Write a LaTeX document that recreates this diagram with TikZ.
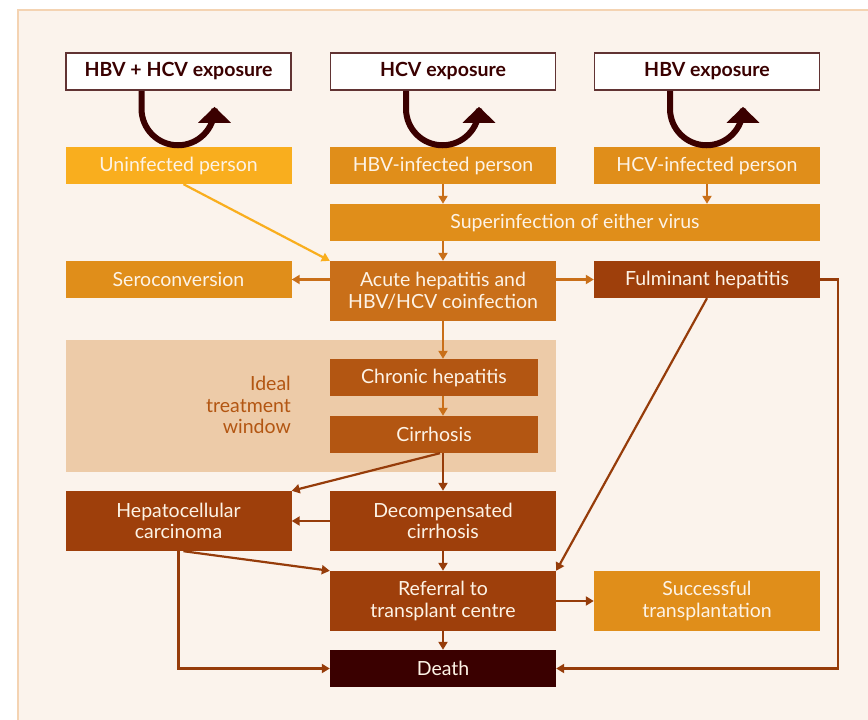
\documentclass[tikz,border=0pt]{standalone}
\usepackage{fontspec}
\setmainfont{Lato}
\usetikzlibrary{arrows.meta}
\definecolor{paper}{HTML}{FBF3EC}
\definecolor{rim}{HTML}{F4D3B2}
\definecolor{ink}{HTML}{3A0000}
\definecolor{yel}{HTML}{F9AE1E}
\definecolor{amber}{HTML}{E08E1A}
\definecolor{ochre}{HTML}{C96F19}
\definecolor{rust}{HTML}{B35612}
\definecolor{brick}{HTML}{9E3F0B}
\definecolor{windowbg}{HTML}{EDCBA8}
\definecolor{boxtext}{HTML}{FDF3E6}
\begin{document}
\begin{tikzpicture}[x=1pt,y=-1pt,
  every node/.style={font=\fontsize{19.5}{21.5}\selectfont, inner sep=0pt, align=center},
  expo/.style={draw=ink!80, line width=1.5pt, fill=white, text=ink, font=\fontsize{19.5}{21.5}\selectfont\bfseries, minimum width=225pt, minimum height=37pt},
  stage/.style={text=boxtext, minimum width=226pt, minimum height=37pt},
  tall/.style={minimum height=60pt},
  loop/.style={ink, line width=6pt, -{Triangle[length=16pt,width=32pt]}},
  flow/.style={line width=2.2pt, -{Triangle[length=8pt,width=9pt]}},
  upper/.style={flow, ochre},
  lower/.style={flow, brick!95!black}
]
\useasboundingbox (0,0) rectangle (868,720);
\fill[paper] (18,10) rectangle (868,720);
\draw[rim, line width=1.5pt] (18,720) -- (18,10) -- (868,10);

% treatment window band
\fill[windowbg] (66,340) rectangle (556,472);
\node[text=rust, align=right, anchor=east] (win) at (291,405) {Ideal\\treatment\\window};

% exposures
\node[expo] (e1) at (178.5,71.5) {HBV + HCV exposure};
\node[expo] (e2) at (443,71.5) {HCV exposure};
\node[expo] (e3) at (707,71.5) {HBV exposure};

% starting states
\node[stage, fill=yel] (un) at (178.5,165.5) {Uninfected person};
\node[stage, fill=amber] (hbv) at (443,165.5) {HBV-infected person};
\node[stage, fill=amber] (hcv) at (707,165.5) {HCV-infected person};
\node[stage, fill=amber, minimum width=490pt] (sup) at (575,222.5) {Superinfection of either virus};

% acute phase
\node[stage, fill=amber] (sero) at (178.5,279.5) {Seroconversion};
\node[stage, fill=ochre, tall] (acute) at (443,291) {Acute hepatitis and\\HBV/HCV coinfection};
\node[stage, fill=brick] (fulm) at (707,279.5) {Fulminant hepatitis};

% chronic course
\node[stage, fill=rust, minimum width=208pt] (chr) at (434,377.5) {Chronic hepatitis};
\node[stage, fill=rust, minimum width=208pt] (cir) at (434,434.5) {Cirrhosis};
\node[stage, fill=brick, tall] (hcc) at (178.5,521) {Hepatocellular\\carcinoma};
\node[stage, fill=brick, tall] (dec) at (443,521) {Decompensated\\cirrhosis};
\node[stage, fill=brick, tall] (ref) at (443,601) {Referral to\\transplant centre};
\node[stage, fill=amber, tall] (suc) at (707,601) {Successful\\transplantation};
\node[stage, fill=ink] (death) at (443,668.5) {Death};

% exposure loops
\foreach \e in {e1, e2, e3}{
  \draw[loop] ([xshift=-37pt]\e.south) -- ++(0,18) arc[start angle=180, end angle=360, radius=36.5pt] -- ++(0,-2);
}

% connectors
\draw[flow, yel] ([xshift=5pt]un.south) -- (acute.north west);
\draw[upper] (hbv.south) -- (hbv.south |- sup.north);
\draw[upper] (hcv.south) -- (hcv.south |- sup.north);
\draw[upper] (acute.north |- sup.south) -- (acute.north);
\draw[upper] (acute.west |- sero.east) -- (sero.east);
\draw[upper] (acute.east |- fulm.west) -- (fulm.west);
\draw[upper] (acute.south) -- (acute.south |- chr.north);
\draw[upper] (acute.south |- chr.south) -- (acute.south |- cir.north);
\draw[lower] (acute.south |- cir.south) -- (dec.north);
\draw[lower] ([xshift=-3pt]acute.south |- cir.south) -- (hcc.north east);
\draw[lower] (dec.west) -- (hcc.east);
\draw[lower] (dec.south) -- (ref.north);
\draw[lower] ([xshift=5pt]hcc.south) -- (ref.north west);
\draw[lower] (hcc.south) -- (hcc.south |- death.west) -- (death.west);
\draw[lower] (fulm.south) -- (ref.north east);
\draw[lower] (fulm.east) -- (838,279.5) -- (838,668.5) -- (death.east);
\draw[lower] (ref.east) -- (suc.west);
\draw[lower] (ref.south) -- (death.north);
\end{tikzpicture}
\end{document}
